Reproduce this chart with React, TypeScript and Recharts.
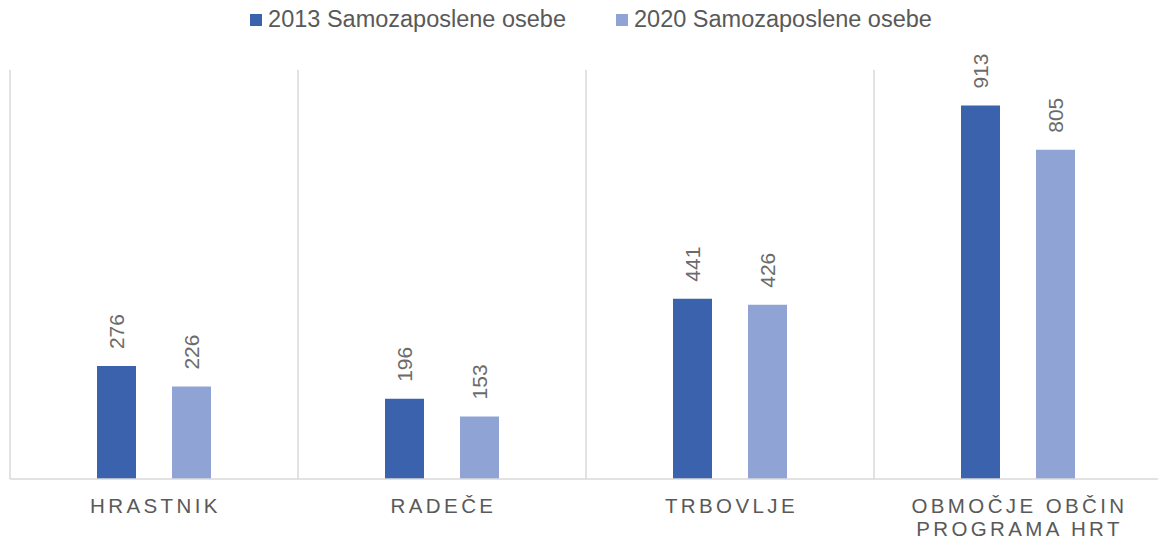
import React from "react";
import { Bar, BarChart, CartesianGrid, LabelList, XAxis, YAxis } from "recharts";

const categories = ["HRASTNIK", "RADEČE", "TRBOVLJE", "OBMOČJE OBČIN PROGRAMA HRT"];
const samozaposleni2013 = [276, 196, 441, 913];
const samozaposleni2020 = [226, 153, 426, 805];
const seriesNames = ["2013 Samozaposlene osebe", "2020 Samozaposlene osebe"];
const seriesColors = ["#3b63ad", "#8fa3d5"];

const data = categories.map((name, i) => ({
  name,
  y2013: samozaposleni2013[i],
  y2020: samozaposleni2020[i],
}));

const FONT = "'Liberation Sans', Arial, sans-serif";

function wrap(label: string, max = 14) {
  const lines: string[] = [];
  let cur = "";
  for (const w of label.split(" ")) {
    const next = cur ? cur + " " + w : w;
    if (next.length > max && cur) {
      lines.push(cur);
      cur = w;
    } else cur = next;
  }
  if (cur) lines.push(cur);
  return lines;
}

function CategoryTick(props: any) {
  const { x, y, payload } = props;
  const lines = wrap(String(payload.value));
  return (
    <g>
      {lines.map((line, i) => (
        <text
          key={i}
          x={x + 1.5}
          y={y + 26 + i * 23}
          textAnchor="middle"
          fill="#595959"
          fontSize={20.5}
          fontFamily={FONT}
          letterSpacing={3.4}
        >
          {line}
        </text>
      ))}
    </g>
  );
}

function ValueLabel(props: any) {
  const { x, y, width, value } = props;
  const cx = x + width / 2;
  const cy = y - 17;
  return (
    <text
      x={cx}
      y={cy}
      transform={`rotate(-90 ${cx} ${cy})`}
      dy="0.36em"
      textAnchor="start"
      fill="#6b6b6b"
      fontSize={21}
      fontFamily={FONT}
    >
      {value}
    </text>
  );
}

export default function App() {
  return (
    <div style={{ position: "fixed", left: 0, top: 0, width: 1158, height: 541, overflow: "hidden", background: "#fff" }}>
      <div
        style={{
          position: "absolute",
          top: 6,
          left: 0,
          width: 1182,
          display: "flex",
          justifyContent: "center",
          gap: 50,
          fontFamily: FONT,
          fontSize: 23.5,
          color: "#595959",
        }}
      >
        {seriesNames.map((n, i) => (
          <div key={n} style={{ display: "flex", alignItems: "center" }}>
            <span style={{ width: 12, height: 12, background: seriesColors[i], marginRight: 6, display: "inline-block" }} />
            <span>{n}</span>
          </div>
        ))}
      </div>
      <BarChart
        width={1164}
        height={541}
        data={data}
        margin={{ top: 70, right: 2, bottom: 0, left: 10 }}
        barSize={39}
        barGap={36}
      >
        <CartesianGrid
          horizontal={false}
          stroke="#d9d9d9"
          strokeWidth={1.5}
          verticalCoordinatesGenerator={({ offset }: any) =>
            [0, 1, 2, 3, 4].map((i) => offset.left + (i * offset.width) / categories.length)
          }
        />
        <XAxis
          dataKey="name"
          height={62}
          tickLine={false}
          axisLine={{ stroke: "#d9d9d9", strokeWidth: 1.5 }}
          tick={<CategoryTick />}
          interval={0}
        />
        <YAxis hide domain={[0, 1000]} />
        <Bar dataKey="y2013" fill={seriesColors[0]} isAnimationActive={false}>
          <LabelList dataKey="y2013" content={<ValueLabel />} />
        </Bar>
        <Bar dataKey="y2020" fill={seriesColors[1]} isAnimationActive={false}>
          <LabelList dataKey="y2020" content={<ValueLabel />} />
        </Bar>
      </BarChart>
    </div>
  );
}
